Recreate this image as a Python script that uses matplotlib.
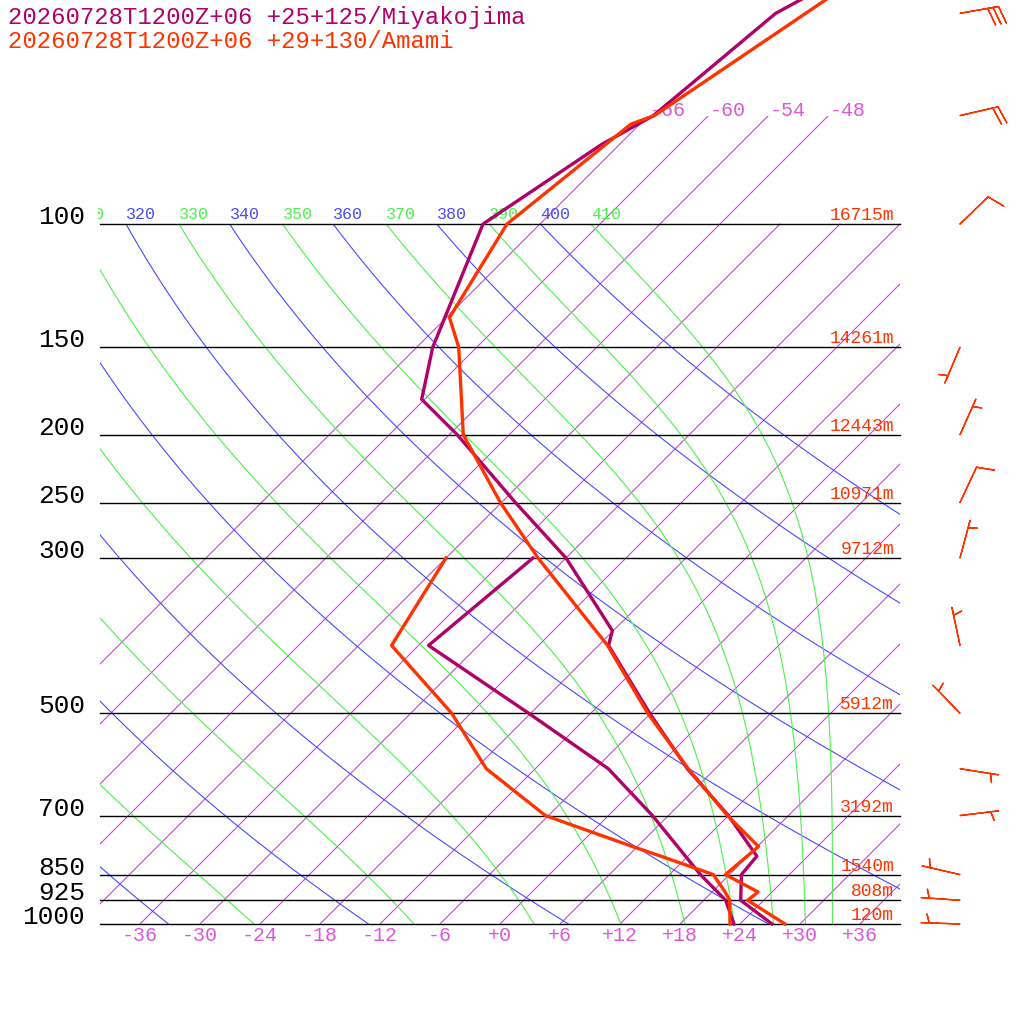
import numpy as np
import matplotlib
matplotlib.use("Agg")
import matplotlib.pyplot as plt
from matplotlib.patches import Rectangle
from matplotlib.transforms import Bbox, TransformedBbox

# ---- sounding data (deg C) ----
MIYAKO_T_P = [1000, 925, 850, 800, 700, 600, 500, 400, 381, 300, 250, 200, 178, 150, 100, 77, 70, 50, 30]
MIYAKO_T = [27.2, 21.7, 19.2, 18.9, 12.0, 3.2, -6.1, -17.0, -18.1, -30.0, -40.6, -53.2, -60.3, -64.4,
            -71.7, -67.8, -65.5, -63.5, -50.3]
MIYAKO_TD_P = [1000, 925, 850, 700, 600, 500, 400, 300]
MIYAKO_TD = [23.4, 20.2, 15.1, 4.4, -4.7, -18.2, -35.0, -33.3]

AMAMI_T_P = [1000, 925, 900, 850, 775, 700, 600, 500, 400, 300, 250, 200, 150, 136, 100, 72, 70, 50, 30]
AMAMI_T = [28.5, 22.4, 22.6, 17.6, 18.1, 11.9, 3.3, -6.3, -17.1, -32.8, -42.1, -52.6, -61.8, -65.7,
           -69.3, -66.9, -65.4, -60.5, -53.1]
AMAMI_TD_P = [1000, 925, 900, 850, 800, 775, 700, 600, 500, 400, 300]
AMAMI_TD = [23.0, 20.6, 19.3, 16.4, 9.3, 5.5, -6.3, -16.9, -25.9, -38.7, -42.0]

# winds (Amami), direction in degrees, speed in knots
WIND_P = [50, 70, 100, 150, 200, 250, 300, 400, 500, 600, 700, 850, 925, 1000]
WIND_DIR = [80, 77, 46, 203, 24, 25, 15, 348, 316, 99, 83, 283, 274, 272]
WIND_KT = [30, 20, 10, 5, 5, 10, 5, 5, 5, 5, 5, 5, 5, 5]

# heights of standard levels (Amami)
ISOBARS = [1000, 925, 850, 700, 500, 300, 250, 200, 150, 100]
HEIGHTS = ["120m", "808m", "1540m", "3192m", "5912m", "9712m", "10971m", "12443m", "14261m", "16715m"]

ISOTHERMS = list(range(-66, 37, 6))
DRY_THETA = list(range(240, 401, 20))
MOIST_THETA = list(range(250, 411, 20))

TITLE1 = "20260728T1200Z+06 +25+125/Miyakojima"
TITLE2 = "20260728T1200Z+06 +29+130/Amami"

PURPLE = "#b0006a"
RED = "#ff3300"
MAGENTA = "#cc44dd"
MAGENTA_TXT = "#d957d9"
BLUE = "#4a4aff"
GREEN = "#4cf04c"
MONO = ["Liberation Mono", "DejaVu Sans Mono"]

SKEW = 30.4


def skew_x(t, p):
    return np.asarray(t, dtype=float) + SKEW * np.log(1000.0 / np.asarray(p, dtype=float))


def moist_t(thetae, pres):
    tk = np.linspace(150, 330, 4000)
    out = []
    for pp in pres:
        tc = tk - 273.15
        es = 6.112 * np.exp(17.67 * tc / (tc + 243.5))
        ok = es < 0.3 * pp
        t = tk[ok]
        r = 622 * es[ok] / (pp - es[ok])
        th = t * (1000 / pp) ** (0.2854 * (1 - 0.00028 * r)) * np.exp(
            (3.376 / t - 0.00254) * r * (1 + 0.00081 * r))
        out.append(np.interp(thetae, th, t))
    return np.array(out) - 273.15


fig = plt.figure(figsize=(10.24, 10.24), dpi=100)
ax = fig.add_axes([0, 0, 1, 1])
ax.set_yscale("log")
ax.set_xlim(-50, 52.4)
ax.set_ylim(1000 * np.exp(100 / 304), 1000 * np.exp(-924 / 304))
ax.axis("off")

box100 = Rectangle((-40, 100), 80, 900, transform=ax.transData, fill=False, visible=False)
box70 = Rectangle((-40, 70), 80, 930, transform=ax.transData, fill=False, visible=False)
ax.add_patch(box100)
ax.add_patch(box70)
label_clip = TransformedBbox(Bbox([[-40.2, 40], [40, 1000]]), ax.transData)

# isotherms
for t in ISOTHERMS:
    ptop = 70 if t <= -48 else 100
    pp = np.array([1000, ptop])
    ln, = ax.plot(skew_x(t, pp), pp, color=MAGENTA, lw=0.8)
    ln.set_clip_path(box70)
    if t <= -48:
        ax.annotate(f"{t:d}", xy=(skew_x(t, 70), 70), xytext=(1, 0), textcoords="offset points",
                    ha="left", va="baseline", color=MAGENTA_TXT, fontsize=14.4, family=MONO)

pgrid = np.geomspace(1000, 100, 200)

# dry adiabats
for th in DRY_THETA:
    tt = th * (pgrid / 1000) ** 0.2857 - 273.15
    ln, = ax.plot(skew_x(tt, pgrid), pgrid, color=BLUE, lw=0.8)
    ln.set_clip_path(box100)
    txt = ax.annotate(str(th), xy=(skew_x(tt[-1], 100), 100), xytext=(0, 3.5),
                      textcoords="offset points", ha="left", va="baseline",
                      color=BLUE, fontsize=12, family=MONO)
    txt.set_clip_box(label_clip)
    txt.set_clip_on(True)

# pseudo-adiabats
for th in MOIST_THETA:
    tt = moist_t(th, pgrid)
    ln, = ax.plot(skew_x(tt, pgrid), pgrid, color=GREEN, lw=0.8)
    ln.set_clip_path(box100)
    txt = ax.annotate(str(th), xy=(skew_x(tt[-1], 100), 100), xytext=(0, 3.5),
                      textcoords="offset points", ha="left", va="baseline",
                      color=GREEN, fontsize=12, family=MONO)
    txt.set_clip_box(label_clip)
    txt.set_clip_on(True)

# isobars, pressure and height labels
for p, h in zip(ISOBARS, HEIGHTS):
    ax.plot([-40, 40], [p, p], color="black", lw=1.0)
    ax.text(-41.5, p, str(p), ha="right", va="baseline", fontsize=18.8, family=MONO, color="black")
    ax.text(39.4, p, h, ha="right", va="bottom", fontsize=13, family=MONO, color=RED)

# temperature labels along the bottom
for t in range(-36, 37, 6):
    lab = f"{t:+d}" if t != 0 else "+0"
    ax.annotate(lab, xy=(t, 1000), xytext=(0, -12.2), textcoords="offset points",
                ha="center", va="baseline", color=MAGENTA_TXT, fontsize=14.4, family=MONO)

# soundings
ax.plot(skew_x(MIYAKO_T, MIYAKO_T_P), MIYAKO_T_P, color=PURPLE, lw=2.4, clip_on=False, zorder=5)
ax.plot(skew_x(MIYAKO_TD, MIYAKO_TD_P), MIYAKO_TD_P, color=PURPLE, lw=2.4, clip_on=False, zorder=5)
ax.plot(skew_x(AMAMI_T, AMAMI_T_P), AMAMI_T_P, color=RED, lw=2.4, clip_on=False, zorder=6)
ax.plot(skew_x(AMAMI_TD, AMAMI_TD_P), AMAMI_TD_P, color=RED, lw=2.4, clip_on=False, zorder=6)

# wind barbs
wd = np.deg2rad(WIND_DIR)
spd = np.array(WIND_KT, dtype=float)
u = -spd * np.sin(wd)
v = -spd * np.cos(wd)
ax.barbs(np.full(len(WIND_P), 46.0), WIND_P, u, v, length=7.5, color=RED, linewidth=1.0,
         sizes=dict(height=0.45, spacing=0.14, emptybarb=0.0), clip_on=False, zorder=7)

# titles
fig.text(8 / 1024, 1 - 24 / 1024, TITLE1, color=PURPLE, fontsize=17.2, family=MONO, va="baseline")
fig.text(8 / 1024, 1 - 48 / 1024, TITLE2, color=RED, fontsize=17.2, family=MONO, va="baseline")

fig.savefig("out.png", dpi=100, facecolor="white")
plt.close(fig)
